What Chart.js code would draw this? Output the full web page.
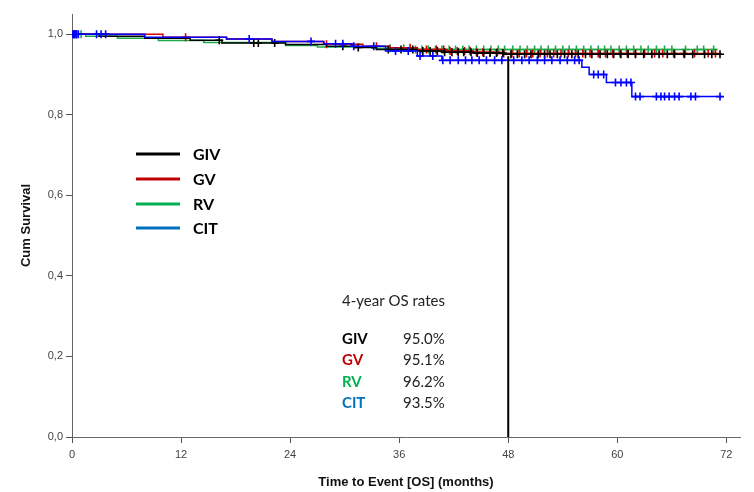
<!DOCTYPE html>
<html>
<head>
<meta charset="utf-8">
<script src="https://cdn.jsdelivr.net/npm/chart.js@4.4.1/dist/chart.umd.min.js"></script>
<style>
  html, body { margin: 0; padding: 0; background: #ffffff; }
  #wrap { width: 754px; height: 492px; }
</style>
</head>
<body>
<div id="wrap"><canvas id="c" width="754" height="492"></canvas></div>
<script>
// ---------- DATA ----------
const groups = ['GIV', 'GV', 'RV', 'CIT'];
const osRates = ['95.0%', '95.1%', '96.2%', '93.5%'];
const xTickValues = [0, 12, 24, 36, 48, 60, 72];
const yTickValues = [0, 0.2, 0.4, 0.6, 0.8, 1.0];

// Kaplan-Meier step curves (time in months, survival after step)
const givTimes = [0, 3, 8, 13, 16.5, 23.5, 28, 31, 33.5, 38, 41, 44, 47.5, 71.5];
const givSurv  = [1, 0.995, 0.99, 0.985, 0.978, 0.974, 0.97, 0.967, 0.962, 0.958, 0.955, 0.953, 0.95, 0.95];
const gvTimes  = [0, 10, 17, 22, 27.7, 32, 35, 38, 41, 44, 47, 71];
const gvSurv   = [1, 0.992, 0.988, 0.982, 0.975, 0.97, 0.966, 0.962, 0.958, 0.955, 0.952, 0.952];
const rvTimes  = [0, 1.5, 5, 9.5, 14.5, 23.5, 27, 33, 37, 71];
const rvSurv   = [1, 0.995, 0.99, 0.984, 0.979, 0.972, 0.968, 0.965, 0.962, 0.962];
const citTimes = [0, 8, 17, 22, 27.7, 30.8, 34.5, 38, 40.7, 56.1, 56.9, 58.8, 61.6, 71.5];
const citSurv  = [1, 0.992, 0.988, 0.982, 0.976, 0.97, 0.958, 0.946, 0.935, 0.918, 0.9, 0.88, 0.845, 0.845];

// Censoring times (months)
const givCensor = [0.2, 0.5, 16.2, 20.0, 20.5, 22.3, 29.8, 31.5, 34.8, 36.2, 37.5, 38.6, 39.4, 40.2, 41.0, 41.8, 42.5, 43.1, 43.9, 44.6, 45.3, 46.0, 46.7, 47.4, 48.3, 49.0, 49.8, 50.5, 51.3, 52.0, 52.6, 53.4, 54.2, 55.0, 55.7, 56.5, 57.2, 58.1, 58.9, 59.6, 60.4, 61.2, 62.0, 62.9, 63.8, 64.6, 65.5, 66.3, 67.4, 68.3, 69.6, 70.4, 71.3];
const gvCensor  = [0.3, 12.5, 28.0, 33.5, 37.2, 39.0, 40.1, 40.9, 41.6, 42.4, 43.2, 43.8, 44.5, 45.2, 46.0, 46.8, 47.5, 48.4, 49.2, 50.0, 50.7, 51.5, 52.3, 53.0, 53.8, 54.6, 55.4, 56.2, 57.0, 57.9, 58.7, 59.5, 60.3, 61.1, 62.0, 63.0, 64.1, 65.0, 66.2, 67.3, 68.5, 70.0, 70.8];
const rvCensor  = [0.4, 1.0, 35.0, 36.5, 37.8, 38.5, 39.2, 40.0, 40.7, 41.5, 42.2, 43.0, 43.7, 44.5, 45.3, 46.1, 46.9, 47.6, 48.5, 49.3, 50.1, 50.9, 51.6, 52.4, 53.2, 54.0, 54.7, 55.5, 56.3, 57.1, 57.9, 58.6, 59.3, 60.2, 61.0, 61.8, 62.6, 63.4, 64.3, 65.2, 66.0, 67.5, 68.8, 69.5, 70.6];
const citCensor = [0.1, 0.3, 0.5, 0.7, 2.7, 3.2, 3.7, 19.5, 26.3, 29.0, 29.8, 31.0, 33.2, 35.6, 37.0, 38.3, 39.7, 40.8, 41.6, 42.5, 43.3, 44.0, 44.8, 45.6, 46.5, 47.3, 48.6, 49.5, 50.3, 51.2, 52.0, 52.8, 53.7, 54.5, 55.3, 55.8, 57.4, 57.9, 58.5, 59.8, 60.4, 61.0, 61.5, 62.0, 62.5, 64.3, 64.8, 65.2, 65.7, 66.3, 66.8, 68.1, 68.6, 71.3];

// Reference line at 4 years
const refMonth = 48;
const refTop = 0.945;

// ---------- STYLE ----------
const curveColors  = { GIV: '#000000', GV: '#d80000', RV: '#1faa4a', CIT: '#0000ff' };
const legendColors = { GIV: '#000000', GV: '#c00000', RV: '#00b050', CIT: '#0070c0' };

function survAt(times, surv, t) {
  let s = surv[0];
  for (let i = 0; i < times.length; i++) { if (times[i] <= t) s = surv[i]; }
  return s;
}
function stepData(times, surv) { return times.map((t, i) => ({ x: t, y: surv[i] })); }
function censorData(times, surv, cens) { return cens.map(t => ({ x: t, y: survAt(times, surv, t) })); }

const series = [
  { name: 'CIT', t: citTimes, s: citSurv, c: citCensor },
  { name: 'GIV', t: givTimes, s: givSurv, c: givCensor },
  { name: 'GV',  t: gvTimes,  s: gvSurv,  c: gvCensor },
  { name: 'RV',  t: rvTimes,  s: rvSurv,  c: rvCensor }
];

const datasets = [];
series.forEach((g, i) => {
  datasets.push({
    label: g.name + ' censored',
    data: censorData(g.t, g.s, g.c),
    showLine: false,
    pointStyle: 'cross',
    pointRadius: 4,
    pointBorderWidth: 1.6,
    borderColor: curveColors[g.name],
    backgroundColor: curveColors[g.name],
    order: i
  });
  datasets.push({
    label: g.name,
    data: stepData(g.t, g.s),
    showLine: true,
    stepped: true,
    borderColor: curveColors[g.name],
    borderWidth: 1.5,
    pointRadius: 0,
    fill: false,
    order: i
  });
});
datasets.push({
  label: 'ref',
  data: [{ x: refMonth, y: refTop }, { x: refMonth, y: 0 }],
  showLine: true,
  borderColor: '#000000',
  borderWidth: 2,
  pointRadius: 0,
  order: -1
});

const overlayPlugin = {
  id: 'overlay',
  afterDraw(chart) {
    const ctx = chart.ctx;
    ctx.save();
    // legend
    const legY = [154, 179, 204, 228];
    ctx.textBaseline = 'middle';
    ctx.textAlign = 'left';
    groups.forEach((g, i) => {
      ctx.strokeStyle = legendColors[g];
      ctx.lineWidth = 3;
      ctx.beginPath();
      ctx.moveTo(136, legY[i]);
      ctx.lineTo(180, legY[i]);
      ctx.stroke();
      ctx.fillStyle = '#000000';
      ctx.font = 'bold 16px Lato, "Liberation Sans", sans-serif';
      ctx.fillText(g, 193, legY[i] + 1);
    });
    // 4-year OS rates box
    ctx.fillStyle = '#222222';
    ctx.font = '15px Lato, "Liberation Sans", sans-serif';
    ctx.fillText('4-year OS rates', 342, 301);
    const rowY = [339, 360, 382, 403];
    groups.forEach((g, i) => {
      ctx.fillStyle = legendColors[g];
      ctx.font = 'bold 15px Lato, "Liberation Sans", sans-serif';
      ctx.fillText(g, 342, rowY[i]);
      ctx.fillStyle = '#222222';
      ctx.font = '15px Lato, "Liberation Sans", sans-serif';
      ctx.fillText(osRates[i], 403, rowY[i]);
    });
    ctx.restore();
  }
};

new Chart(document.getElementById('c'), {
  type: 'scatter',
  data: { datasets },
  options: {
    responsive: false,
    animation: false,
    devicePixelRatio: 1,
    layout: { padding: { top: 14, right: 14, left: 0, bottom: 0 } },
    plugins: { legend: { display: false }, tooltip: { enabled: false } },
    scales: {
      x: {
        type: 'linear',
        min: 0,
        max: 73.5,
        afterFit(scale) { scale.height = 55; },
        afterBuildTicks(scale) { scale.ticks = xTickValues.map(v => ({ value: v })); },
        ticks: {
          callback: v => String(v),
          color: '#444444',
          font: { family: '"Liberation Sans", Arial, sans-serif', size: 11 },
          padding: 5,
          maxRotation: 0
        },
        grid: { drawOnChartArea: false, drawTicks: true, tickLength: 6, color: '#555555', lineWidth: 1 },
        border: { color: '#666666', width: 1 },
        title: {
          display: true,
          text: 'Time to Event [OS] (months)',
          color: '#111111',
          font: { family: '"Liberation Sans", Arial, sans-serif', size: 13, weight: 'bold' },
          padding: { top: 0, bottom: 2 }
        }
      },
      y: {
        type: 'linear',
        min: 0,
        max: 1.05,
        afterFit(scale) { scale.width = 72; },
        afterBuildTicks(scale) { scale.ticks = yTickValues.map(v => ({ value: v })); },
        ticks: {
          callback: v => v.toFixed(1).replace('.', ','),
          color: '#444444',
          font: { family: '"Liberation Sans", Arial, sans-serif', size: 11 },
          padding: 3
        },
        grid: { drawOnChartArea: false, drawTicks: true, tickLength: 6, color: '#555555', lineWidth: 1 },
        border: { color: '#666666', width: 1 },
        title: {
          display: true,
          text: 'Cum Survival',
          color: '#111111',
          font: { family: '"Liberation Sans", Arial, sans-serif', size: 13, weight: 'bold' },
          padding: { top: 19, bottom: 0 }
        }
      }
    }
  },
  plugins: [overlayPlugin]
});
</script>
</body>
</html>
